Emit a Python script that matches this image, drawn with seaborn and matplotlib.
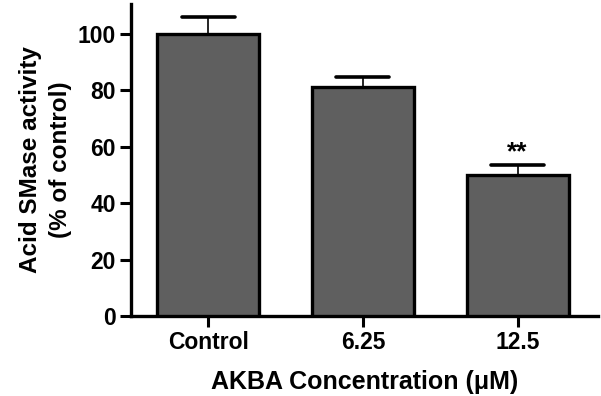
import matplotlib
matplotlib.use("Agg")
import matplotlib.pyplot as plt
import seaborn as sns
import pandas as pd

categories = ["Control", "6.25", "12.5"]
values = [100, 81, 50]
errors = [6.0, 3.7, 3.4]
significance = ["", "", "**"]

sns.set_theme(style="ticks")
plt.rcParams['font.family'] = ['Liberation Sans', 'DejaVu Sans']
plt.rcParams['text.color'] = 'black'
plt.rcParams['axes.labelcolor'] = 'black'

df = pd.DataFrame({"conc": categories, "activity": values})

fig = plt.figure(figsize=(6.01, 3.96), dpi=100)
ax = fig.add_axes([0.218, 0.202, 0.777, 0.788])

bar_width = 0.66
sns.barplot(data=df, x="conc", y="activity", color="#5f5f5f", saturation=1,
            width=bar_width, edgecolor="black", linewidth=2.4, ax=ax, errorbar=None, zorder=3)

# upper-only SEM error bars (GraphPad style)
xs = list(range(len(categories)))
tops = [v + e for v, e in zip(values, errors)]
cap_half = bar_width * 0.26
ax.vlines(xs, values, tops, color="black", linewidth=1.2, zorder=2)
ax.hlines(tops, [x - cap_half for x in xs], [x + cap_half for x in xs],
          color="black", linewidth=2.6, zorder=2, capstyle="round")

for x, t, s in zip(xs, tops, significance):
    if s:
        ax.text(x, t + 4.4, s, ha="center", va="center", fontsize=19, fontweight="bold")

ax.set_xlim(-0.5, 2.52)
ax.set_ylim(0, 110.5)
ax.set_yticks([0, 20, 40, 60, 80, 100])
ax.set_xlabel("AKBA Concentration (\u03bcM)", fontsize=18, fontweight="bold", labelpad=11)
ax.set_ylabel("Acid SMase activity\n(% of control)", fontsize=17.5, fontweight="bold",
              labelpad=4, linespacing=1.4)
for lab in ax.get_xticklabels() + ax.get_yticklabels():
    lab.set_fontweight("bold")
ax.tick_params(axis="both", labelsize=16.5, width=2.2, length=8, color="black", labelcolor="black", pad=3)
for sp in ["left", "bottom"]:
    ax.spines[sp].set_linewidth(2.4)
    ax.spines[sp].set_color("black")
sns.despine(ax=ax)

fig.savefig("out.png", dpi=100)
